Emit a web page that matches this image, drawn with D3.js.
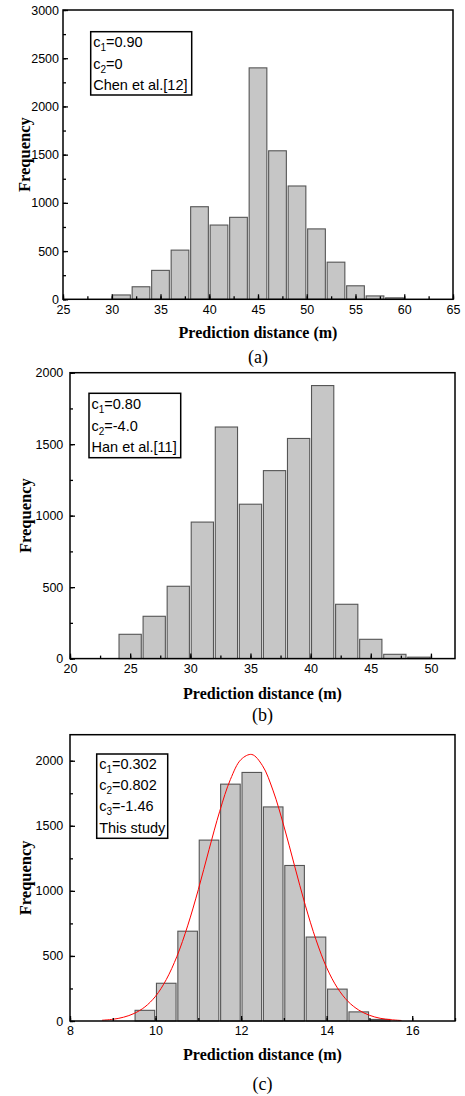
<!DOCTYPE html>
<html>
<head>
<meta charset="utf-8">
<script src="https://cdn.jsdelivr.net/npm/d3@7/dist/d3.min.js"></script>
<style>
  html, body { margin: 0; padding: 0; background: #fff; }
  svg { display: block; }
  .tick text { font-family: "Liberation Sans", Arial, sans-serif; font-size: 12.5px; fill: #000; }
  .tick line { stroke: #000; stroke-width: 1.3; }
  .title { font-family: "Liberation Serif", "Times New Roman", serif; font-weight: bold; font-size: 16px; fill: #000; }
  .ytitle { font-family: "Liberation Serif", "Times New Roman", serif; font-weight: bold; font-size: 16.5px; fill: #000; }
  .caption { font-family: "Liberation Serif", "Times New Roman", serif; font-size: 18px; fill: #000; }
  .note { font-family: "Liberation Sans", Arial, sans-serif; font-size: 14.5px; fill: #000; }
</style>
</head>
<body>
<script>
// ---- Histogram (a): Chen et al.[12]
const binsA   = [30, 32, 34, 36, 38, 40, 42, 44, 46, 48, 50, 52, 54, 56, 58];
const countsA = [45, 130, 300, 510, 960, 770, 850, 2400, 1540, 1175, 730, 385, 140, 35, 15];
const binWidthA = 2;
const xTicksA = [25, 30, 35, 40, 45, 50, 55, 60, 65];
const yTicksA = [0, 500, 1000, 1500, 2000, 2500, 3000];
const notesA = [["c", "1", "=0.90"], ["c", "2", "=0"], ["Chen et al.[12]"]];

// ---- Histogram (b): Han et al.[11]
const binsB   = [24, 26, 28, 30, 32, 34, 36, 38, 40, 42, 44, 46, 48];
const countsB = [170, 296, 506, 955, 1620, 1080, 1315, 1540, 1910, 380, 135, 30, 10];
const binWidthB = 2;
const xTicksB = [20, 25, 30, 35, 40, 45, 50];
const yTicksB = [0, 500, 1000, 1500, 2000];
const notesB = [["c", "1", "=0.80"], ["c", "2", "=-4.0"], ["Han et al.[11]"]];

// ---- Histogram (c): this study, with fitted curve
const binsC   = [9.5, 10, 10.5, 11, 11.5, 12, 12.5, 13, 13.5, 14, 14.5, 15];
const countsC = [82, 290, 690, 1390, 1820, 1910, 1645, 1195, 645, 245, 70, 12];
const binWidthC = 0.5;
const xTicksC = [8, 10, 12, 14, 16];
const yTicksC = [0, 500, 1000, 1500, 2000];
const notesC = [["c", "1", "=0.302"], ["c", "2", "=0.802"], ["c", "3", "=-1.46"], ["This study"]];
const fitX = [8.75, 9, 9.25, 9.5, 9.75, 10, 10.25, 10.5, 10.75, 11, 11.25, 11.5, 11.75, 12, 12.25,
              12.5, 12.75, 13, 13.25, 13.5, 13.75, 14, 14.25, 14.5, 14.75, 15, 15.25, 15.5, 15.75];
const fitY = [6, 13, 29, 58, 108, 190, 318, 497, 731, 1010, 1317, 1612, 1856, 2010, 2048,
              1962, 1768, 1498, 1192, 890, 625, 410, 255, 150, 84, 44, 21, 10, 4];

const W = 465, H = 1096;
const svg = d3.select("body").append("svg").attr("width", W).attr("height", H);

function panel(opt) {
  const g = svg.append("g");
  const x = d3.scaleLinear().domain(opt.xDomain).range([opt.left, opt.right]);
  const y = d3.scaleLinear().domain(opt.yDomain).range([opt.bottom, opt.top]);

  // bars
  g.append("g").selectAll("rect")
    .data(opt.bins.map((b, i) => ({ x0: b, x1: b + opt.binWidth, n: opt.counts[i] })))
    .join("rect")
    .attr("x", d => x(d.x0) + 0.9)
    .attr("width", d => x(d.x1) - x(d.x0) - 1.8)
    .attr("y", d => y(d.n))
    .attr("height", d => y(0) - y(d.n))
    .attr("fill", "#c6c6c6")
    .attr("stroke", "#555")
    .attr("stroke-width", 1.1);

  // fitted curve
  if (opt.curveX) {
    const line = d3.line().x(d => x(d[0])).y(d => y(d[1])).curve(d3.curveCatmullRom);
    g.append("path")
      .datum(opt.curveX.map((v, i) => [v, opt.curveY[i]]))
      .attr("d", line)
      .attr("fill", "none")
      .attr("stroke", "#ff0000")
      .attr("stroke-width", 1);
  }

  // minor ticks
  g.append("g").attr("transform", `translate(0,${opt.bottom})`)
    .call(d3.axisBottom(x).tickValues(d3.range(opt.xDomain[0], opt.xDomain[1] + 1e-9, opt.xMinor)).tickSize(-3).tickFormat(""))
    .call(a => a.select(".domain").remove());
  g.append("g").attr("transform", `translate(${opt.left},0)`)
    .call(d3.axisLeft(y).tickValues(d3.range(opt.yDomain[0], opt.yDomain[1] + 1e-9, opt.yMinor)).tickSize(-3).tickFormat(""))
    .call(a => a.select(".domain").remove());

  // major ticks with labels
  g.append("g").attr("transform", `translate(0,${opt.bottom})`)
    .call(d3.axisBottom(x).tickValues(opt.xTicks).tickSize(-5).tickPadding(opt.xPad).tickFormat(d3.format("d")))
    .call(a => a.select(".domain").remove());
  g.append("g").attr("transform", `translate(${opt.left},0)`)
    .call(d3.axisLeft(y).tickValues(opt.yTicks).tickSize(-5).tickPadding(opt.yPad).tickFormat(d3.format("d")))
    .call(a => a.select(".domain").remove());

  // frame
  g.append("rect")
    .attr("x", opt.left).attr("y", opt.top)
    .attr("width", opt.right - opt.left).attr("height", opt.bottom - opt.top)
    .attr("fill", "none").attr("stroke", "#000").attr("stroke-width", 1.5);

  // parameter box
  const bx = opt.box;
  g.append("rect")
    .attr("x", bx.x).attr("y", bx.y).attr("width", bx.w).attr("height", bx.h)
    .attr("fill", "#fff").attr("stroke", "#000").attr("stroke-width", 1.5);
  opt.notes.forEach((parts, i) => {
    const t = g.append("text").attr("class", "note")
      .attr("x", bx.x + 2.5).attr("y", bx.first + i * bx.step);
    if (parts.length === 1) {
      t.text(parts[0]);
    } else {
      t.append("tspan").text(parts[0]);
      t.append("tspan").attr("font-size", "10px").attr("dy", 4).text(parts[1]);
      t.append("tspan").attr("dy", -4).text(parts[2]);
    }
  });

  // axis titles
  svg.append("text").attr("class", "ytitle")
    .attr("text-anchor", "middle")
    .attr("transform", `translate(${opt.yTitleX},${(opt.top + opt.bottom) / 2}) rotate(-90)`)
    .text("Frequency");
  svg.append("text").attr("class", "title")
    .attr("text-anchor", "middle")
    .attr("x", (opt.left + opt.right) / 2).attr("y", opt.xTitleY)
    .text("Prediction distance (m)");
  svg.append("text").attr("class", "caption")
    .attr("text-anchor", "middle")
    .attr("x", (opt.left + opt.right) / 2).attr("y", opt.captionY)
    .text(opt.caption);
}

panel({
  left: 63, right: 453, top: 10, bottom: 299.3,
  xDomain: [25, 65], yDomain: [0, 3000], xMinor: 2.5, yMinor: 250,
  xTicks: xTicksA, yTicks: yTicksA, xPad: 6, yPad: 4,
  bins: binsA, counts: countsA, binWidth: binWidthA,
  box: { x: 90.7, y: 31.7, w: 101, h: 63.3, first: 47, step: 21.6 },
  notes: notesA,
  yTitleX: 30, xTitleY: 337.5, captionY: 363, caption: "(a)"
});

panel({
  left: 70, right: 455, top: 372.7, bottom: 658.6,
  xDomain: [20, 52], yDomain: [0, 2000], xMinor: 2.5, yMinor: 250,
  xTicks: xTicksB, yTicks: yTicksB, xPad: 6, yPad: 6.7,
  bins: binsB, counts: countsB, binWidth: binWidthB,
  box: { x: 89, y: 393.3, w: 91.7, h: 64.4, first: 409.3, step: 21.4 },
  notes: notesB,
  yTitleX: 31, xTitleY: 698.5, captionY: 721, caption: "(b)"
});

panel({
  left: 70, right: 455, top: 734.7, bottom: 1021,
  xDomain: [8, 17], yDomain: [0, 2200], xMinor: 1, yMinor: 250,
  xTicks: xTicksC, yTicks: yTicksC, xPad: 5.5, yPad: 6.7,
  bins: binsC, counts: countsC, binWidth: binWidthC,
  curveX: fitX, curveY: fitY,
  box: { x: 96.7, y: 754, w: 71, h: 84.3, first: 768.8, step: 21.3 },
  notes: notesC,
  yTitleX: 31, xTitleY: 1060, captionY: 1090, caption: "(c)"
});
</script>
</body>
</html>
